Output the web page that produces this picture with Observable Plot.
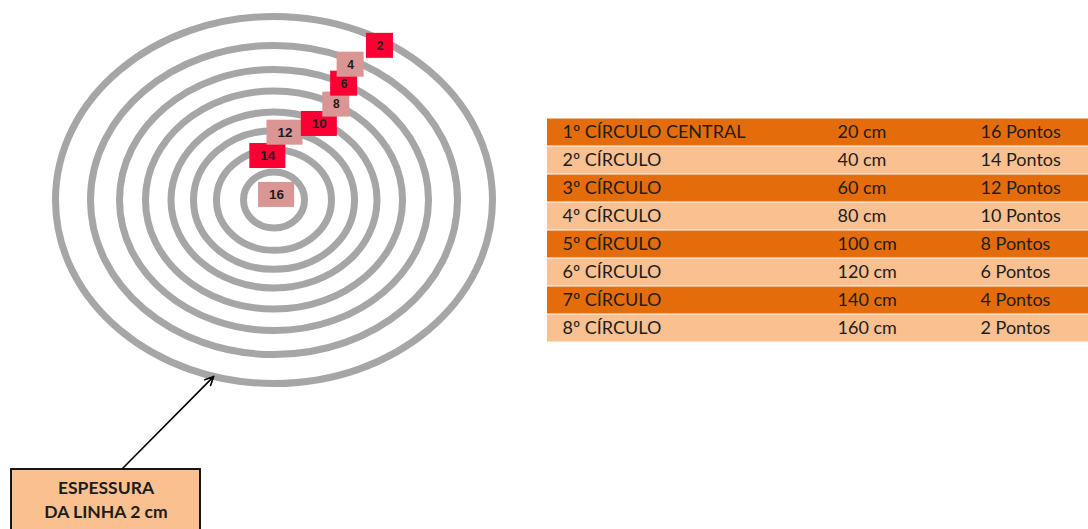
<!DOCTYPE html>
<html><head><meta charset="utf-8">
<script src="https://cdn.jsdelivr.net/npm/d3@7"></script>
<script src="https://cdn.jsdelivr.net/npm/@observablehq/plot@0.6"></script>
<style>
html,body{margin:0;padding:0;background:#fff;}
#root{position:relative;width:1088px;height:529px;overflow:hidden;background:#fff;}
#target{position:absolute;left:0;top:0;}
#table{position:absolute;left:547px;top:117px;}
</style></head>
<body><div id="root"><div id="target"></div><div id="table"></div></div>
<script>
// ---- data ----
const circleNames = ["1º CÍRCULO CENTRAL","2º CÍRCULO","3º CÍRCULO","4º CÍRCULO","5º CÍRCULO","6º CÍRCULO","7º CÍRCULO","8º CÍRCULO"];
const diametersCm = [20, 40, 60, 80, 100, 120, 140, 160];
const points = [16, 14, 12, 10, 8, 6, 4, 2];
const noteLines = ["ESPESSURA", "DA LINHA 2 cm"];
const lineWidthCm = 2;

// ---- layout (sketch geometry, not data) ----
const center = {x: 273.5, y: 199.5};
const ringRadiusPx = [30.5, 57.5, 80.5, 103, 128.5, 154.5, 183.5, 218.5]; // piecewise r-scale range
const ryOf = rx => 2.8 + 0.827 * rx;   // vertical squash of the sketch's ellipses
const labelAngleDeg = [65, 97, 82, 63, 61, 63, 64.5, 60];
const labelRadial = [0.2, 0.88, 0.98, 0.97, 1.0, 1.0, 0.97, 0.97];
const pink = "#d99694", red = "#fc0033", gray = "#a6a6a6";
const dark = "#e46c0a", light = "#fac090", ink = "#1d1d1d";

const rScaleOpts = {type: "linear", domain: diametersCm, range: ringRadiusPx};
const rScale = Plot.scale({r: rScaleOpts});

const ellipseSymbol = {
  draw(ctx, size) {
    const rx = Math.sqrt(size / Math.PI), ry = ryOf(rx), k = 0.5522847;
    ctx.moveTo(rx, 0);
    ctx.bezierCurveTo(rx, k * ry, k * rx, ry, 0, ry);
    ctx.bezierCurveTo(-k * rx, ry, -rx, k * ry, -rx, 0);
    ctx.bezierCurveTo(-rx, -k * ry, -k * rx, -ry, 0, -ry);
    ctx.bezierCurveTo(k * rx, -ry, rx, -k * ry, rx, 0);
    ctx.closePath();
  }
};

const rings = diametersCm.map((d, i) => ({diam: d, pts: points[i], i}));
const labels = rings.map(r => {
  const rx = rScale.apply(r.diam), ry = ryOf(rx);
  const a = labelAngleDeg[r.i] * Math.PI / 180, f = labelRadial[r.i];
  return {p: r.pts, i: r.i, x: center.x + rx * f * Math.cos(a), y: center.y - ry * f * Math.sin(a),
          w: String(r.pts).length > 1 ? 36 : 27};
});
// arrow points at the outer ring (line thickness note)
const outer = rScale.apply(diametersCm[diametersCm.length - 1]);
const arrowAng = 254 * Math.PI / 180;
const arrow = [{x1: 122, y1: 468, x2: center.x + outer * Math.cos(arrowAng), y2: center.y - ryOf(outer) * Math.sin(arrowAng)}];

const target = Plot.plot({
  width: 545, height: 529, margin: 0,
  x: {type: "identity", axis: null}, y: {type: "identity", axis: null},
  r: rScaleOpts, color: {type: "identity"},
  style: {background: "transparent", fontFamily: "Lato, 'Open Sans', sans-serif"},
  marks: [
    Plot.dot(rings, {x: () => center.x, y: () => center.y, r: "diam", symbol: ellipseSymbol,
      fill: "none", stroke: gray, strokeWidth: 7}),
    Plot.rect(labels, {x1: d => d.x - d.w / 2, x2: d => d.x + d.w / 2, y1: d => d.y - 12.5, y2: d => d.y + 12.5,
      fill: d => d.i % 2 ? red : pink}),
    Plot.text(labels, {x: "x", y: "y", text: d => String(d.p), fill: ink, fontSize: d => d.w > 30 ? 13.5 : 12,
      fontWeight: "bold", fontFamily: "'Liberation Sans', Arial, sans-serif"}),
    Plot.arrow(arrow, {x1: "x1", y1: "y1", x2: "x2", y2: "y2", stroke: "#000", strokeWidth: 1.6, headLength: 9, headAngle: 50}),
    Plot.rect([lineWidthCm], {x1: 11, x2: 200, y1: 469, y2: 545, fill: light, stroke: "#000", strokeWidth: 1.8}),
    Plot.text(noteLines, {x: 105.5, y: (d, i) => 488 + i * 23.5, text: d => d, fill: ink, fontSize: 17.5,
      fontWeight: "bold", fontFamily: "Lato, sans-serif"})
  ]
});
document.getElementById("target").appendChild(target);

const rows = circleNames.map((n, i) => ({name: n, diam: diametersCm[i] + " cm", pts: points[i] + " Pontos", i}));
const tableW = 541, tableH = 226;
const table = Plot.plot({
  width: tableW, height: tableH, margin: 0,
  x: {type: "identity", axis: null},
  y: {type: "band", domain: circleNames, range: [0, tableH], padding: 0, axis: null},
  color: {type: "identity"},
  style: {background: "transparent", fontFamily: "Lato, 'Open Sans', sans-serif"},
  marks: [
    Plot.barX(rows, {x1: 0, x2: tableW, y: "name", fill: d => d.i % 2 ? light : dark, insetTop: 0.5, insetBottom: 0.5}),
    Plot.text(rows, {x: 15, y: "name", text: "name", textAnchor: "start", fill: ink, fontSize: 18}),
    Plot.text(rows, {x: 290, y: "name", text: "diam", textAnchor: "start", fill: ink, fontSize: 18}),
    Plot.text(rows, {x: 433, y: "name", text: "pts", textAnchor: "start", fill: ink, fontSize: 18})
  ]
});
document.getElementById("table").appendChild(table);
</script>
</body></html>
